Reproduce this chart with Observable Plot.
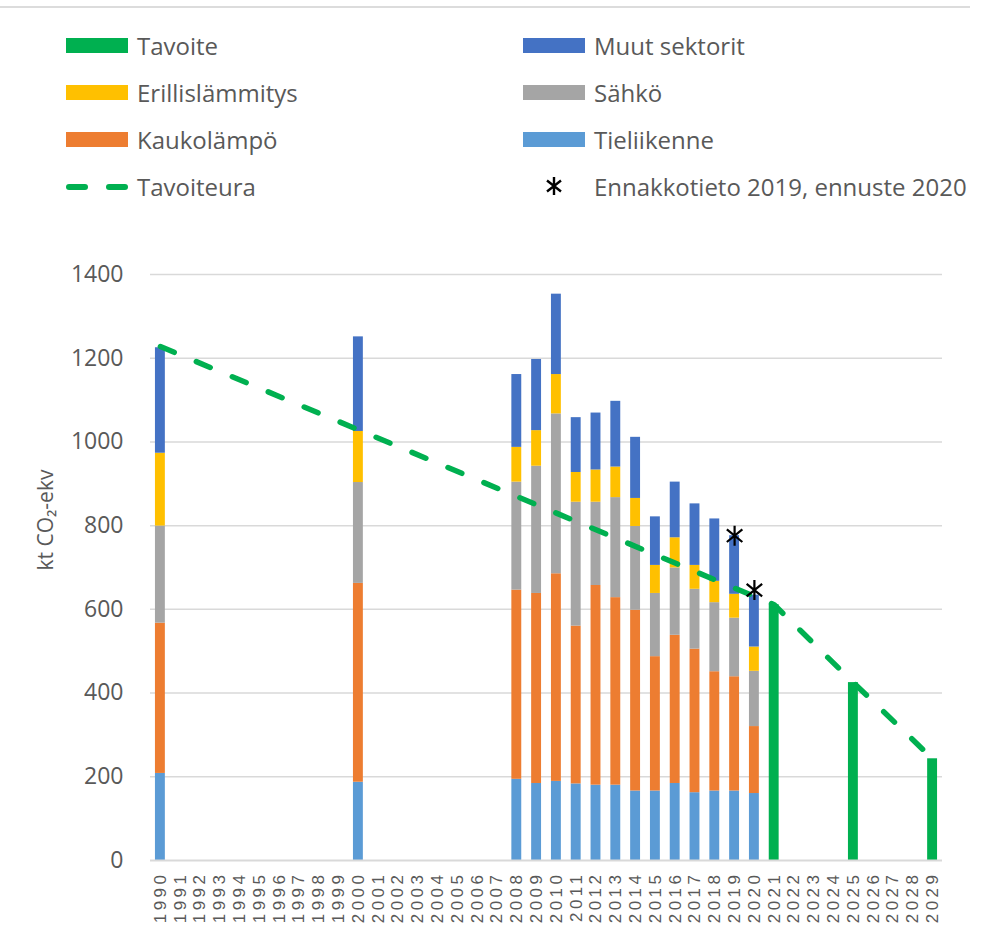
<!DOCTYPE html>
<html>
<head>
<meta charset="utf-8">
<script src="https://cdn.jsdelivr.net/npm/d3@7"></script>
<script src="https://cdn.jsdelivr.net/npm/@observablehq/plot@0.6"></script>
<style>
  body { margin: 0; background: #fff; width: 994px; height: 938px; overflow: hidden; position: relative; font-family: "Open Sans", sans-serif; }
  .topline { position: absolute; left: 0; top: 6px; width: 970px; height: 2px; background: #dcdcdc; }
  .legend { position: absolute; left: 0; top: 0; width: 994px; height: 240px; }
  .item { position: absolute; height: 30px; display: flex; align-items: center; color: #595959; font-size: 24px; white-space: nowrap; }
  .sw { width: 62px; height: 15px; margin-right: 9px; }
  .dash { width: 62px; height: 15px; margin-right: 9px; position: relative; }
  .dash span { position: absolute; top: 5px; height: 6px; width: 22px; border-radius: 3px; background: #00B050; }
  .star { width: 62px; margin-right: 9px; display: flex; justify-content: center; }
  #chart { position: absolute; left: 0; top: 240px; }
  #chart g[aria-label="x-axis tick label"] text { letter-spacing: 3.5px; }
</style>
</head>
<body>
<div class="topline"></div>
<div class="legend" id="legend"></div>
<div id="chart"></div>
<script>
// Categories (x axis tick labels)
const allYears = ["1990","1991","1992","1993","1994","1995","1996","1997","1998","1999",
  "2000","2001","2002","2003","2004","2005","2006","2007","2008","2009",
  "2010","2011","2012","2013","2014","2015","2016","2017","2018","2019",
  "2020","2021","2022","2023","2024","2025","2026","2027","2028","2029"];

// Emission sectors, kt CO2-ekv
const dataYears     = ["1990","2000","2008","2009","2010","2011","2012","2013","2014","2015","2016","2017","2018","2019","2020"];
const tieliikenne   = [208, 187, 194, 184, 189, 183, 180, 180, 166, 166, 184, 162, 166, 166, 160];
const kaukolampo    = [359, 475, 452, 454, 496, 377, 477, 448, 432, 321, 354, 343, 285, 273, 160];
const sahko         = [232, 241, 258, 304, 382, 296, 199, 239, 200, 151, 161, 143, 165, 140, 132];
const erillis       = [174, 122,  83,  85,  94,  71,  77,  73,  67,  67,  72,  57,  51,  57,  58];
const muut          = [252, 226, 174, 170, 192, 131, 136, 157, 146, 116, 133, 147, 149, 140, 124];

// Targets
const tavoiteYears  = ["2021","2025","2029"];
const tavoite       = [611, 425, 243];

// Target path
const uraYears      = ["1990","2021","2025","2029"];
const ura           = [1228, 611, 425, 243];

// Preliminary / forecast markers
const ennYears      = ["2019","2020"];
const ennValues     = [776, 646];

const yTicks = [0, 200, 400, 600, 800, 1000, 1200, 1400];

const sectors = ["Tieliikenne","Kaukolämpö","Sähkö","Erillislämmitys","Muut sektorit"];
const sectorColors = ["#5B9BD5","#ED7D31","#A5A5A5","#FFC000","#4472C4"];
const series = [tieliikenne, kaukolampo, sahko, erillis, muut];

const stacked = [];
dataYears.forEach((yr, i) => {
  sectors.forEach((s, k) => stacked.push({year: yr, sector: s, value: series[k][i]}));
});
const tavoiteData = tavoiteYears.map((y, i) => ({year: y, value: tavoite[i]}));
const uraData = uraYears.map((y, i) => ({year: y, value: ura[i]}));
const ennData = ennYears.map((y, i) => ({year: y, value: ennValues[i]}));

const textColor = "#595959";

// Excel-like star marker: vertical stroke plus an X
const starSymbol = {
  draw(context, size) {
    const r = Math.sqrt(size / Math.PI);
    const a = r * Math.cos(Math.PI / 4.6), b = r * Math.sin(Math.PI / 4.6);
    context.moveTo(0, -r); context.lineTo(0, r);
    context.moveTo(-a, -b); context.lineTo(a, b);
    context.moveTo(-a, b); context.lineTo(a, -b);
  }
};

const chart = Plot.plot({
  width: 994,
  height: 698,
  marginLeft: 150,
  marginRight: 52,
  marginTop: 34,
  marginBottom: 78,
  style: {background: "#fff", color: textColor},
  x: {type: "band", domain: allYears, paddingInner: 0.5, paddingOuter: 0.25, label: null},
  y: {domain: [0, 1400], label: null},
  color: {domain: sectors, range: sectorColors},
  marks: [
    Plot.ruleY(yTicks.filter(d => d > 0), {stroke: "#D9D9D9", strokeWidth: 1.5}),
    Plot.barY(stacked, {x: "year", y: "value", fill: "sector", order: sectors}),
    Plot.barY(tavoiteData, {x: "year", y: "value", fill: "#00B050"}),
    Plot.ruleY([0], {stroke: "#D9D9D9", strokeWidth: 2}),
    Plot.line(uraData, {x: "year", y: "value", stroke: "#00B050", strokeWidth: 5.5,
      strokeDasharray: "15,24", strokeLinecap: "round"}),
    Plot.dot(ennData, {x: "year", y: "value", symbol: starSymbol, r: 10, stroke: "#000", strokeWidth: 2.2}),
    Plot.axisY(yTicks, {tickSize: 0, tickPadding: 27, fontSize: 23, fill: textColor, fontFamily: "Open Sans",
      tickFormat: d => String(d)}),
    Plot.axisX(allYears, {tickSize: 0, tickPadding: 11, tickRotate: -90, fontSize: 17, fill: textColor,
      fontFamily: "Liberation Sans", label: null}),
    Plot.text(["kt CO₂-ekv"], {frameAnchor: "left", dx: -104, dy: 3, rotate: -90, fontSize: 21,
      fill: textColor, fontFamily: "Open Sans"})
  ]
});
document.getElementById("chart").appendChild(chart);

// Legend
const legendItems = [
  {label: "Tavoite", type: "sw", color: "#00B050", x: 66, y: 45},
  {label: "Erillislämmitys", type: "sw", color: "#FFC000", x: 66, y: 92},
  {label: "Kaukolämpö", type: "sw", color: "#ED7D31", x: 66, y: 139},
  {label: "Tavoiteura", type: "dash", color: "#00B050", x: 66, y: 186},
  {label: "Muut sektorit", type: "sw", color: "#4472C4", x: 523, y: 45},
  {label: "Sähkö", type: "sw", color: "#A5A5A5", x: 523, y: 92},
  {label: "Tieliikenne", type: "sw", color: "#5B9BD5", x: 523, y: 139},
  {label: "Ennakkotieto 2019, ennuste 2020", type: "star", x: 523, y: 186}
];
const leg = document.getElementById("legend");
legendItems.forEach(it => {
  const d = document.createElement("div");
  d.className = "item";
  d.style.left = it.x + "px";
  d.style.top = (it.y - 15) + "px";
  let mark;
  if (it.type === "sw") {
    mark = `<div class="sw" style="background:${it.color}"></div>`;
  } else if (it.type === "dash") {
    mark = `<div class="dash"><span style="left:0"></span><span style="left:40px"></span></div>`;
  } else {
    mark = `<div class="star"><svg width="22" height="22" viewBox="-11 -11 22 22"><path d="M0,-9L0,9M-7,-5.5L7,5.5M-7,5.5L7,-5.5" stroke="#000" stroke-width="2.4" fill="none"/></svg></div>`;
  }
  d.innerHTML = mark + `<span>${it.label}</span>`;
  leg.appendChild(d);
});
</script>
</body>
</html>
